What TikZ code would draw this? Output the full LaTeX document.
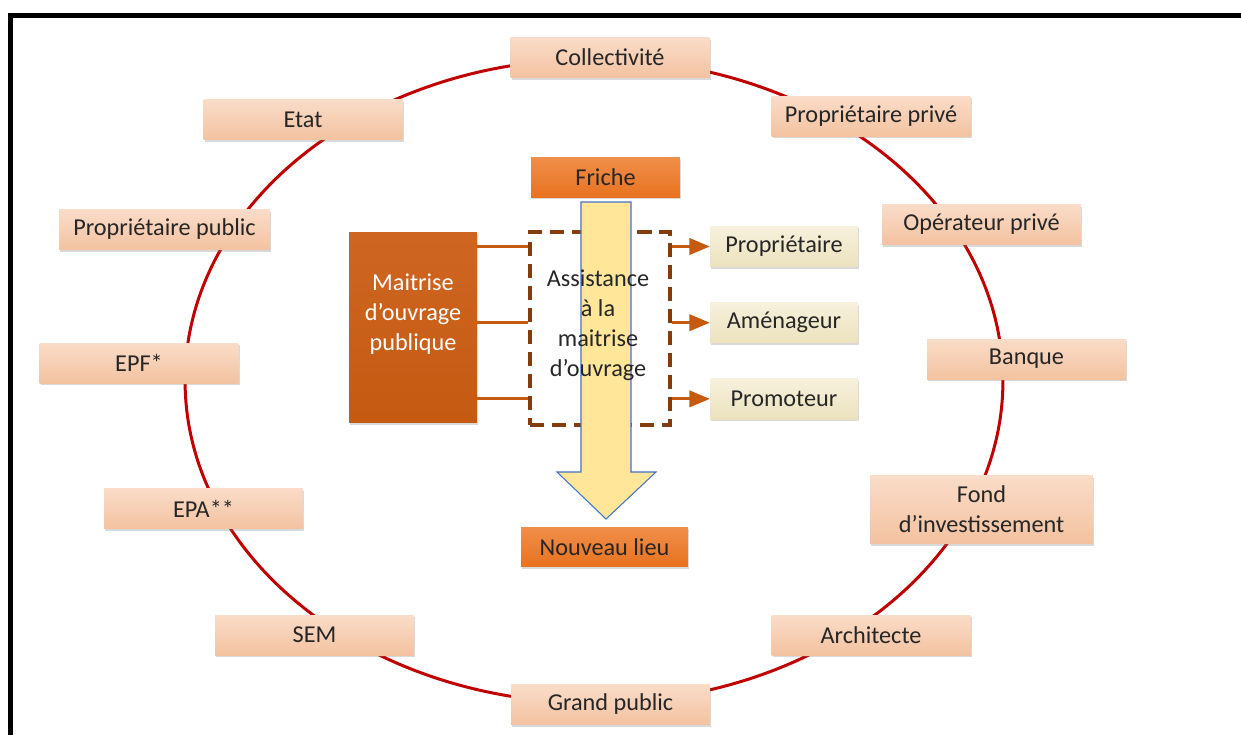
\documentclass[tikz,border=0pt]{standalone}
\usepackage{xcolor}
\usepackage{fontspec}
\setmainfont{Carlito}
\usepackage{tikz}
\usetikzlibrary{shapes.geometric, arrows, positioning, shadows}

\definecolor{peach}{HTML}{F3C2A0}
\definecolor{peachtop}{HTML}{FADCC8}
\definecolor{orangebox}{HTML}{E8721F}
\definecolor{orangetop}{HTML}{F08E4A}
\definecolor{moafill}{HTML}{C55A11}
\definecolor{moatop}{HTML}{CE6622}
\definecolor{amobrown}{HTML}{843C0C}
\definecolor{cream}{HTML}{ECE2BE}
\definecolor{creamtop}{HTML}{F7F1DD}
\definecolor{ringred}{HTML}{C00000}
\definecolor{flowyellow}{HTML}{FFE699}
\definecolor{flowblue}{HTML}{4472C4}

\begin{document}
\begin{tikzpicture}[
    x=0.02cm, y=-0.02cm,
    every node/.style={font=\fontsize{13.8}{17}\selectfont, text=black!85},
    actor/.style={rectangle, top color=peachtop, bottom color=peach, minimum width=3.98cm, minimum height=0.8cm, inner sep=0pt, align=center, drop shadow={shadow xshift=0.6pt, shadow yshift=-1.2pt, opacity=0.3}},
    stage/.style={rectangle, top color=orangetop, bottom color=orangebox, minimum height=0.79cm, inner sep=0pt, drop shadow={shadow xshift=0.6pt, shadow yshift=-1.2pt, opacity=0.3}},
    role/.style={rectangle, top color=creamtop, bottom color=cream, minimum width=2.96cm, minimum height=0.81cm, inner sep=0pt, drop shadow={shadow xshift=0.6pt, shadow yshift=-1.2pt, opacity=0.3}},
    moa/.style={rectangle, top color=moatop, bottom color=moafill, minimum width=2.56cm, minimum height=3.82cm, text=white, align=center, drop shadow={shadow xshift=0.6pt, shadow yshift=-1.2pt, opacity=0.3}},
    amo/.style={rectangle, draw=amobrown, line width=2.2pt, dash pattern=on 8pt off 4.5pt, minimum width=2.8cm, minimum height=3.86cm},
    link/.style={draw, line width=1.7pt, moafill},
    line/.style={draw, -triangle 45, line width=1.7pt, moafill}
]
    \useasboundingbox (0,0) rectangle (1241,735);
    \draw [line width=3.4pt] (10.5,735) -- (10.5,15.5) -- (1241,15.5);

    % ring of actors
    \draw [ringred, line width=1.7pt] (594,381) ellipse [x radius=8.18cm, y radius=6.44cm];

    \node [actor] (collectivite) at (610,57.5) {Collectivité};
    \node [actor] (etat) at (303,119.5) {Etat};
    \node [actor] (privprop) at (871,116) {Propriétaire privé};
    \node [actor, minimum width=4.22cm] (pubprop) at (164.5,229.5) {Propriétaire public};
    \node [actor] (operateur) at (981.5,224.5) {Opérateur privé};
    \node [actor] (epf) at (139,363) {EPF*};
    \node [actor] (banque) at (1026.5,359) {Banque};
    \node [actor] (epa) at (203.5,508.5) {EPA**};
    \node [actor, minimum width=4.46cm, minimum height=1.36cm] (fond) at (981.5,509.5) {Fond\\d’investissement};
    \node [actor] (sem) at (314.5,635) {SEM};
    \node [actor] (architecte) at (871,635) {Architecte};
    \node [actor] (public) at (610.5,704.5) {Grand public};

    % centre
    \node [stage, minimum width=2.98cm] (friche) at (605.5,177.5) {Friche};
    \node [stage, minimum width=3.34cm] (lieu) at (604.5,547) {Nouveau lieu};
    \node [moa, text depth=17.5pt] (moa) at (413,327.5) {Maitrise\\d’ouvrage\\publique};
    \node [amo] (amo) at (600,328.5) {};

    \draw [fill=flowyellow, draw=flowblue, line width=0.6pt]
        (581,202) -- (631,202) -- (631,472) -- (656,472) -- (606,519) -- (557,472) -- (581,472) -- cycle;
    \node [align=center] (amotext) at (598,325) {Assistance\\à la\\maitrise\\d’ouvrage};

    \node [role] (prop) at (784,246.5) {Propriétaire};
    \node [role, below=0.7cm of prop] (amen) {Aménageur};
    \node [role, below=0.7cm of amen] (promo) {Promoteur};

    \path [link] (moa.east |- prop.west) -- (amo.west |- prop.west);
    \path [link] (moa.east |- amen.west) -- (amo.west |- amen.west);
    \path [link] (moa.east |- promo.west) -- (amo.west |- promo.west);
    \path [line] (amo.east |- prop.west) -- (prop.west);
    \path [line] (amo.east |- amen.west) -- (amen.west);
    \path [line] (amo.east |- promo.west) -- (promo.west);
\end{tikzpicture}
\end{document}
